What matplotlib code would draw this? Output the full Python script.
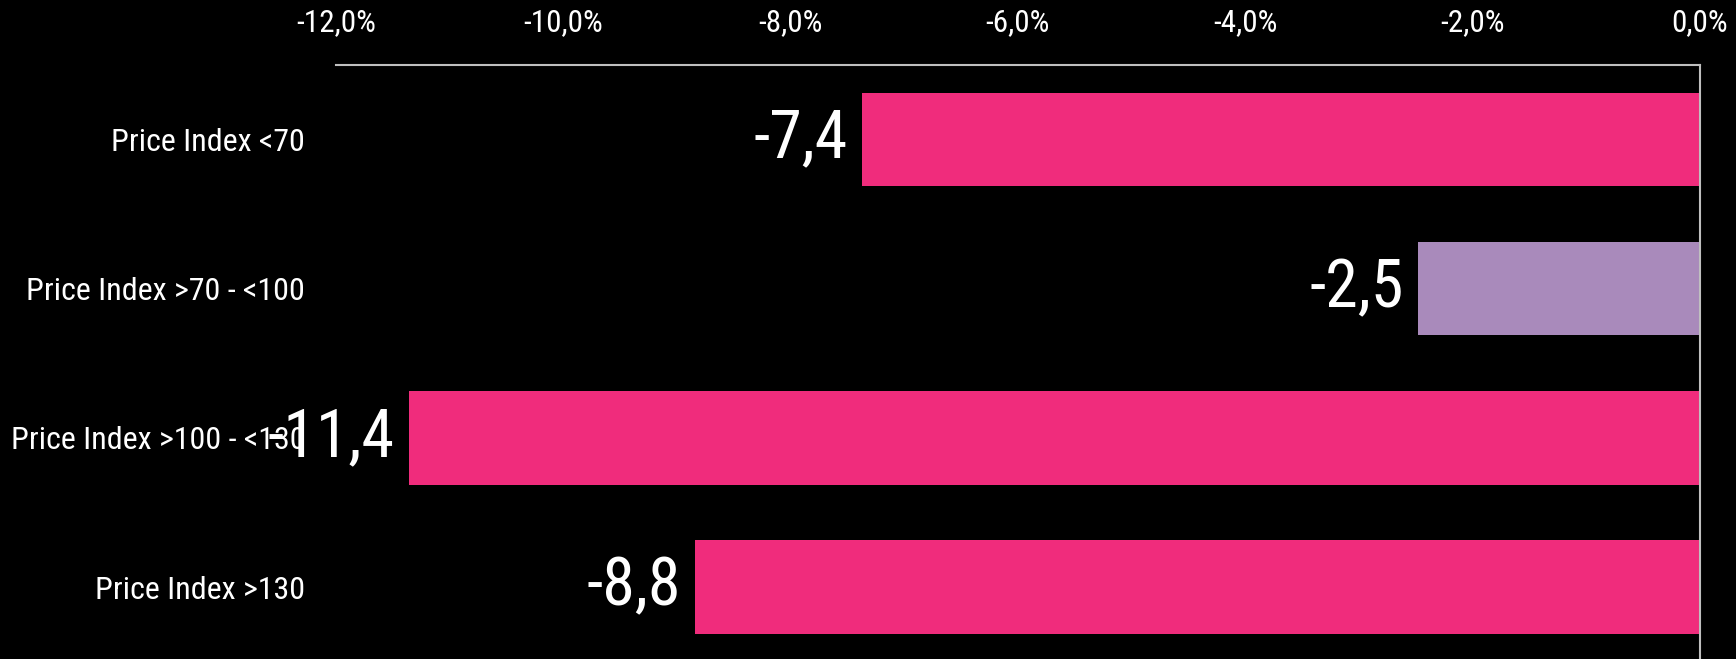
import matplotlib.pyplot as plt
from matplotlib.ticker import FuncFormatter

categories = ["Price Index <70", "Price Index >70 - <100", "Price Index >100 - <130", "Price Index >130"]
values = [-7.37, -2.48, -11.36, -8.84]
bar_colors = ["#F02C7C", "#A98ABB", "#F02C7C", "#F02C7C"]
ticks = [-12, -10, -8, -6, -4, -2, 0]

plt.rcParams['font.family'] = ['Roboto Condensed', 'Liberation Sans Narrow', 'Roboto', 'DejaVu Sans']

fig = plt.figure(figsize=(17.36, 6.59), dpi=100, facecolor="black")
ax = fig.add_axes([0.1935, -0.004, 0.7855, 0.905])
ax.set_facecolor("black")

y = range(len(categories))
ax.barh(y, values, height=0.625, color=bar_colors)

for i, v in enumerate(values):
    ax.annotate(f"{v:.1f}".replace(".", ","), xy=(v, i), xytext=(-10, 0),
                textcoords="offset points", ha="right", va="center",
                color="white", fontsize=47.5)

ax.set_xlim(-12, 0)
ax.set_ylim(3.5, -0.5)
ax.set_xticks(ticks)
ax.xaxis.set_major_formatter(FuncFormatter(lambda x, p: f"{x:.1f}".replace(".", ",") + "%"))
ax.xaxis.tick_top()
ax.set_yticks(list(y))
ax.set_yticklabels(categories)
ax.tick_params(axis="x", length=0, pad=20, labelsize=22.5, colors="white")
ax.tick_params(axis="y", length=0, pad=22, labelsize=23, colors="white")

for s in ["left", "bottom"]:
    ax.spines[s].set_visible(False)
for s in ["top", "right"]:
    ax.spines[s].set_color("#BFBFBF")
    ax.spines[s].set_linewidth(1.5)

fig.savefig("out.png", dpi=100, facecolor="black")
